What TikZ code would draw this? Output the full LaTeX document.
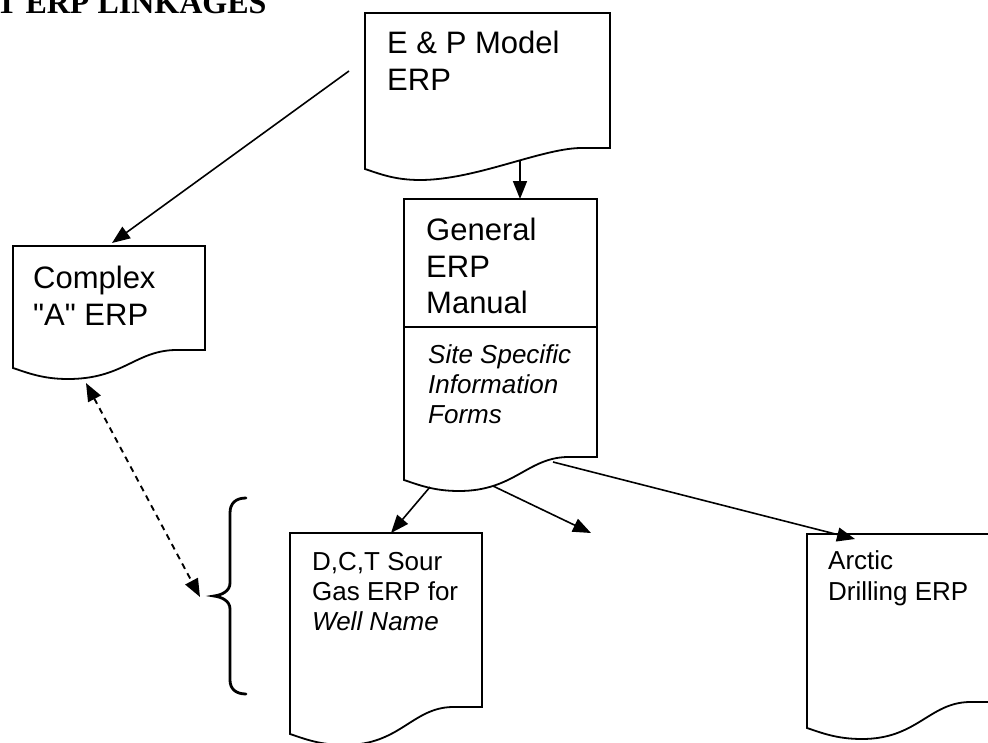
\documentclass[tikz,border=0pt]{standalone}
\usepackage{fontspec}
\setmainfont{Liberation Sans}[Ligatures=TeXOff]
\newfontfamily\titlefont{Liberation Serif}
\usetikzlibrary{arrows.meta}
% document shape: #1 L, #2 T, #3 R, #4 y right bottom, #5 y left bottom
\newcommand\docshape[5]{%
  \draw[docline] (#1,#5) -- (#1,#2) -- (#3,#2) -- (#3,#4) -- ({#3-30},#4)
    .. controls ({#3-70},{#4+1}) and ({#1+110},{#5+11}) .. ({#1+55},{#5+11})
    .. controls ({#1+30},{#5+11}) and ({#1+15},{#5+5}) .. (#1,#5) -- cycle;}
\begin{document}
\begin{tikzpicture}[x=1pt,y=-1pt,
  docline/.style={line width=1.8pt, line join=miter},
  conn/.style={line width=1.6pt, -{Triangle[length=18pt,width=14pt]}},
  dconn/.style={line width=1.9pt, dash pattern=on 6pt off 5pt,
    {Triangle[length=18pt,width=14pt]}-{Triangle[length=18pt,width=14pt]}},
  big/.style={font=\fontsize{31}{37}\selectfont, anchor=base west, inner sep=0pt},
  small/.style={font=\fontsize{26}{30}\selectfont, anchor=base west, inner sep=0pt},
  smallit/.style={font=\fontsize{26}{30}\selectfont\itshape, anchor=base west, inner sep=0pt},
  bracestyle/.style={line width=2.8pt, line cap=round}]
\useasboundingbox (0,0) rectangle (988,742);

% title (cut by the page edge, as in the reference)
\node[font=\titlefont\bfseries\fontsize{32}{38}\selectfont, anchor=base west, inner sep=0pt]
  (title) at (-4,13) {T ERP LINKAGES};

% boxes
\docshape{365}{13}{610}{148}{169}
\docshape{13}{246}{205}{350}{368}
\docshape{404}{199}{597}{457}{480}
\draw[docline] (404,327) -- (597,327);
\docshape{290}{533}{482}{707}{734}
\docshape{807}{534}{999}{702}{728}

% texts
\node[big] (ep1) at (387,53) {E \& P Model};
\node[big] (ep2) at (387,90) {ERP};
\node[big] (cx1) at (33,288) {Complex};
\node[big] (cx2) at (33,325) {"A" ERP};
\node[big] (ge1) at (426,240) {General};
\node[big] (ge2) at (426,277) {ERP};
\node[big] (ge3) at (426,313) {Manual};
\node[smallit] (si1) at (428,363) {Site Specific};
\node[smallit] (si2) at (428,393) {Information};
\node[smallit] (si3) at (428,423) {Forms};
\node[small] (dc1) at (312,570) {D,C,T Sour};
\node[small] (dc2) at (312,600) {Gas ERP for};
\node[smallit] (dc3) at (312,630) {Well Name};
\node[small] (ar1) at (828,569) {Arctic};
\node[small] (ar2) at (828,600) {Drilling ERP};

% connector end points
\coordinate (epL) at (349,71);
\coordinate (cxT) at (112,243);
\coordinate (epB) at (520,161);
\coordinate (geT) at (520,199);
\coordinate (geB1) at (430,487);
\coordinate (dcT) at (391,533);
\coordinate (geB2) at (493,486);
\coordinate (freeEnd) at (591,533);
\coordinate (geB3) at (553,462);
\coordinate (arT) at (855,539);
\coordinate (cxB) at (86,383);
\coordinate (brTip) at (200,597);

\draw[conn] (epL) -- (cxT);
\draw[conn] (epB) -- (geT);
\draw[conn] (geB1) -- (dcT);
\draw[conn] (geB2) -- (freeEnd);
\draw[conn] (geB3) -- (arT);
\draw[dconn] (cxB) -- (brTip);

% brace
\draw[bracestyle] (246,498) .. controls (236,498) and (230,503) .. (230,513) -- (230,583)
  .. controls (230,591) and (222,595) .. (214,596)
  .. controls (222,597) and (230,601) .. (230,609) -- (230,680)
  .. controls (230,689) and (236,694) .. (246,694);
\end{tikzpicture}
\end{document}
